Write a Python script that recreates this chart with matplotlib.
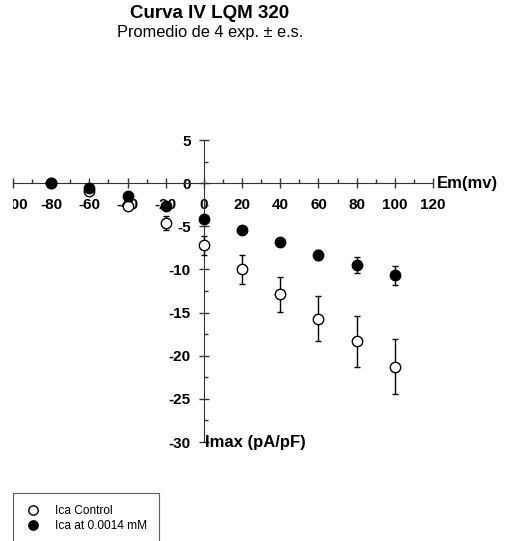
import matplotlib
matplotlib.use("Agg")
import matplotlib.pyplot as plt
from matplotlib.ticker import MultipleLocator
from matplotlib.transforms import Bbox

plt.rcParams['font.family'] = ['Liberation Sans', 'DejaVu Sans']
plt.rcParams['axes.unicode_minus'] = False

# membrane potential (mV)
em = [-80, -60, -40, -20, 0, 20, 40, 60, 80, 100]

# Ica control, mean and s.e.
ctrl = [0.0, -0.9, -2.6, -4.6, -7.2, -10.0, -12.9, -15.7, -18.35, -21.25]
ctrl_err = [0.1, 0.2, 0.3, 0.8, 1.1, 1.7, 2.05, 2.6, 2.9, 3.2]

# Ica with LQM 320 at 0.0014 mM
drug = [0.0, -0.55, -1.5, -2.6, -4.1, -5.4, -6.8, -8.35, -9.5, -10.65]
drug_err = [0.2, 0.2, 0.25, 0.3, 0.3, 0.4, 0.5, 0.6, 0.9, 1.1]

xticks = [-100, -80, -60, -40, -20, 0, 20, 40, 60, 80, 100, 120]
yticks = [-30, -25, -20, -15, -10, -5, 0, 5]

W, H = 513, 541
fig = plt.figure(figsize=(W / 100, H / 100), dpi=100)
ax = fig.add_axes([13 / W, 1 - 442 / H, 420 / W, 302 / H])
ax.set_xlim(-100, 120)
ax.set_ylim(-30, 5)

ax.errorbar(em, ctrl, yerr=ctrl_err, fmt='o', mfc='white', mec='black',
            color='black', ms=7.5, mew=1, elinewidth=1, capsize=2.5,
            label='Ica Control', zorder=3, clip_on=False)
ax.errorbar(em, drug, yerr=drug_err, fmt='o', mfc='black', mec='black',
            color='black', ms=7.5, mew=1, elinewidth=1, capsize=2.5,
            label='Ica at 0.0014 mM', zorder=4, clip_on=False)

# axes crossing at the origin
for s in ['top', 'right']:
    ax.spines[s].set_visible(False)
ax.spines['left'].set_position(('data', 0))
ax.spines['bottom'].set_position(('data', 0))
ax.spines['left'].set_color('#333333')
ax.spines['bottom'].set_color('#333333')

ax.set_xticks(xticks)
ax.set_yticks(yticks)
ax.xaxis.set_minor_locator(MultipleLocator(10))
ax.yaxis.set_minor_locator(MultipleLocator(2.5))
ax.tick_params(which='major', direction='inout', length=7, width=1, colors='#333333')
ax.tick_params(which='minor', direction='in', length=3, width=1, colors='#333333')
ax.tick_params(axis='x', pad=7, labelsize=11, labelcolor='black')
ax.tick_params(axis='y', pad=6, labelsize=11, labelcolor='black')
for lab in ax.get_xticklabels() + ax.get_yticklabels():
    lab.set_fontweight('bold')

# the leftmost x label is cut at the edge of the frame in the original
clip = Bbox.from_extents(13, 0, W, H)
for lab in ax.get_xticklabels():
    lab.set_clip_box(clip)
    lab.set_clip_on(True)

ax.text(122, 0, 'Em(mv)', ha='left', va='center', fontsize=12, fontweight='bold')
ax.text(0.8, -30, 'Imax (pA/pF)', ha='left', va='center', fontsize=12, fontweight='bold')

fig.text(210 / W, 1 - 13 / H, 'Curva IV LQM 320', ha='center', va='center',
         fontsize=13.5, fontweight='bold')
fig.text(210 / W, 1 - 32 / H, 'Promedio de 4 exp. \u00b1 e.s.', ha='center', va='center',
         fontsize=11.8)

h, l = ax.get_legend_handles_labels()
h = [x[0] for x in h]
leg = fig.legend(h, l, loc='upper left', bbox_to_anchor=(13 / W, 1 - 493 / H),
                 borderaxespad=0, fontsize=8.6, frameon=True, fancybox=False,
                 edgecolor='#333333', borderpad=1.0, handletextpad=1.2,
                 labelspacing=0.25, handlelength=1.3, markerscale=0.9)
leg.get_frame().set_linewidth(0.8)

fig.savefig('out.png', dpi=100)
